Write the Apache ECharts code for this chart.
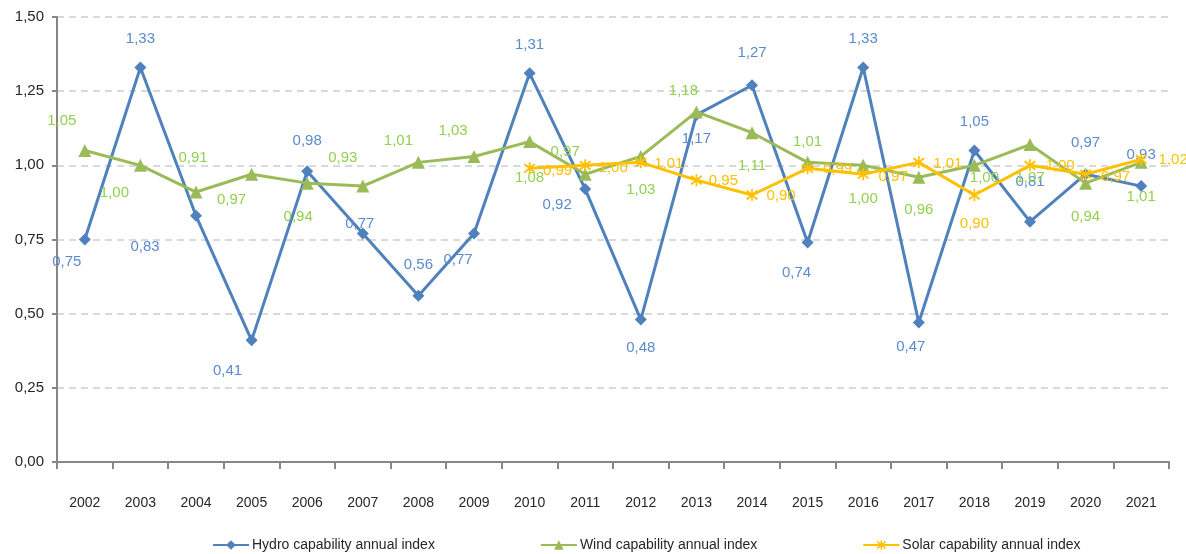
<!DOCTYPE html>
<html>
<head>
<meta charset="utf-8">
<style>
  html, body { margin: 0; padding: 0; background: #fff; }
  #chart { width: 1186px; height: 554px; }
</style>
<script src="https://cdn.jsdelivr.net/npm/echarts@6/dist/echarts.min.js"></script>
</head>
<body>
<div id="chart"></div>
<script>
  var years = ['2002','2003','2004','2005','2006','2007','2008','2009','2010','2011',
               '2012','2013','2014','2015','2016','2017','2018','2019','2020','2021'];
  var hydro = [0.75,1.33,0.83,0.41,0.98,0.77,0.56,0.77,1.31,0.92,0.48,1.17,1.27,0.74,1.33,0.47,1.05,0.81,0.97,0.93];
  var wind  = [1.05,1.00,0.91,0.97,0.94,0.93,1.01,1.03,1.08,0.97,1.03,1.18,1.11,1.01,1.00,0.96,1.00,1.07,0.94,1.01];
  var solar = [null,null,null,null,null,null,null,null,0.99,1.00,1.01,0.95,0.90,0.99,0.97,1.01,0.90,1.00,0.97,1.02];

  // label offsets from each point (Excel put them all over the place)
  var hydroLbl = [[-18,22],[0,-29],[-51,31],[-24,30],[0,-30],[-3,-10],[0,-31],[-16,26],[0,-29],[-28,16],
                  [0,28],[0,24],[0,-32],[-11,30],[0,-29],[-8,24],[0,-29],[0,-40],[0,-31],[0,-31]];
  var windLbl  = [[-23,-30],[-26,28],[-3,-34],[-20,26],[-9,34],[-20,-28],[-20,-22],[-21,-26],[0,36],[-20,-22],
                  [0,33],[-13,-21],[0,33],[0,-21],[0,34],[0,33],[10,13],[0,33],[0,34],[0,34]];
  var solarLbl = [null,null,null,null,null,null,null,null,[28,3],[28,3],
                  [28,1],[27,1],[29,1],[30,1],[30,3],[29,1],[0,29],[30,1],[30,3],[32,0]];

  var FONT = "'Liberation Sans', Arial, sans-serif";
  var star = 'path://M-0.8,-7L0.8,-7L0.8,7L-0.8,7Z M-4.3,-5.7L5.7,4.3L4.3,5.7L-5.7,-4.3Z M4.3,-5.7L5.7,-4.3L-4.3,5.7L-5.7,4.3Z';

  function fmt(v){ return v.toFixed(2).replace('.', ','); }

  function build(vals, offs){
    return vals.map(function(v, i){
      if (v == null) return null;
      return { value: v, label: { offset: offs[i] } };
    });
  }

  var chart = echarts.init(document.getElementById('chart'));
  var option = {
    animation: false,
    textStyle: { fontFamily: FONT },
    grid: { left: 57, right: 17, top: 17, bottom: 92, containLabel: false },
    legend: {
      left: 207,
      top: 533,
      itemGap: 105,
      itemWidth: 36,
      itemHeight: 12,
      textStyle: { fontFamily: FONT, fontSize: 14, color: '#262626', padding: [0,0,0,-2] },
      data: ['Hydro capability annual index','Wind capability annual index','Solar capability annual index']
    },
    xAxis: {
      type: 'category',
      data: years,
      boundaryGap: true,
      axisLine: { lineStyle: { color: '#868686', width: 2 } },
      axisTick: { show: true, length: 7, lineStyle: { color: '#868686', width: 2 } },
      axisLabel: { color: '#262626', fontSize: 14, fontFamily: FONT, margin: 34 }
    },
    yAxis: {
      type: 'value',
      min: 0,
      max: 1.5,
      interval: 0.25,
      axisLine: { show: true, lineStyle: { color: '#868686', width: 2 } },
      axisTick: { show: true, length: 5, lineStyle: { color: '#868686', width: 2 } },
      axisLabel: { color: '#262626', fontSize: 15, fontFamily: FONT, margin: 13,
                   formatter: function(v){ return fmt(v); } },
      splitLine: { show: true, lineStyle: { color: '#D9D9D9', width: 2, type: [7,5] } }
    },
    series: [
      {
        name: 'Hydro capability annual index',
        type: 'line',
        data: build(hydro, hydroLbl),
        symbol: 'diamond',
        symbolSize: 12,
        lineStyle: { color: '#4F81BD', width: 3 },
        itemStyle: { color: '#4F81BD' },
        label: { show: true, position: 'inside', color: '#5B8BCF', fontSize: 15, fontFamily: FONT,
                 formatter: function(p){ return fmt(p.value); } },
        z: 3
      },
      {
        name: 'Wind capability annual index',
        type: 'line',
        data: build(wind, windLbl),
        symbol: 'triangle',
        symbolSize: 13,
        lineStyle: { color: '#9BBB59', width: 3 },
        itemStyle: { color: '#9BBB59' },
        label: { show: true, position: 'inside', color: '#92D050', fontSize: 15, fontFamily: FONT,
                 formatter: function(p){ return fmt(p.value); } },
        z: 4
      },
      {
        name: 'Solar capability annual index',
        type: 'line',
        data: build(solar, solarLbl),
        symbol: star,
        symbolSize: 12,
        connectNulls: false,
        lineStyle: { color: '#FFC000', width: 3 },
        itemStyle: { color: '#FFC000' },
        label: { show: true, position: 'inside', color: '#FFC000', fontSize: 15, fontFamily: FONT,
                 formatter: function(p){ return fmt(p.value); } },
        z: 5
      }
    ]
  };
  chart.setOption(option);
</script>
</body>
</html>
